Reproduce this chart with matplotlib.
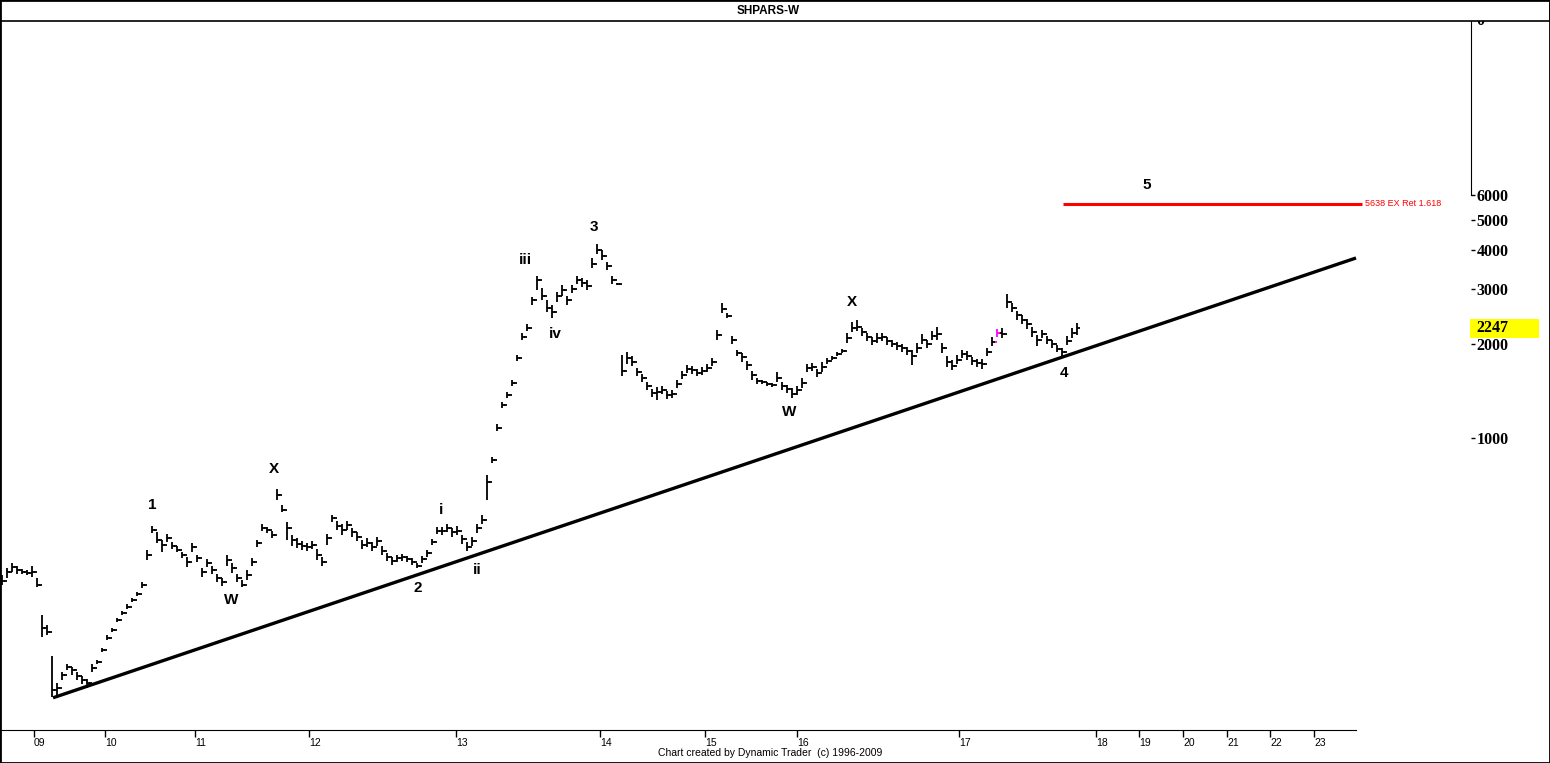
import matplotlib
matplotlib.use("Agg")
import matplotlib.pyplot as plt
from matplotlib.patches import Rectangle
from matplotlib.ticker import NullLocator
from matplotlib.transforms import ScaledTranslation
import numpy as np

plt.rcParams['font.family'] = ['Liberation Sans', 'DejaVu Sans']

TITLE = "SHPARS-W"
FOOTER = "Chart created by Dynamic Trader  (c) 1996-2009"

# weekly bars (one value per bar)
closes = [348, 373, 386, 378, 373, 370, 373, 338, 246, 239,
          156, 158, 174, 184, 180, 173, 168, 164, 183, 191,
          209, 228, 242, 261, 275, 288, 303, 317, 338, 422,
          507, 471, 455, 478, 451, 438, 422, 400, 448, 412,
          373, 398, 378, 356, 346, 406, 384, 356, 338, 364,
          400, 461, 515, 507, 489, 657, 588, 515, 471, 458,
          451, 448, 455, 422, 400, 478, 554, 523, 507, 527,
          500, 482, 455, 461, 448, 468, 435, 416, 403, 412,
          416, 409, 400, 389, 409, 428, 464, 503, 503, 515,
          500, 503, 475, 448, 468, 515, 546, 723, 850, 1077,
          1277, 1375, 1501, 1805, 2108, 2253, 2769, 3209, 2854, 2611,
          2535, 2854, 2981, 2769, 3004, 3209, 3141, 3072, 3614, 4005,
          3834, 3561, 3209, 3118, 1640, 1805, 1753, 1628, 1558, 1469,
          1395, 1405, 1425, 1375, 1385, 1490, 1593, 1665, 1652, 1617,
          1640, 1677, 1753, 2140, 2592, 2462, 2061, 1873, 1819, 1715,
          1593, 1523, 1512, 1490, 1480, 1558, 1469, 1436, 1385, 1425,
          1501, 1677, 1690, 1617, 1690, 1765, 1805, 1860, 1900, 2093,
          2253, 2270, 2187, 2108, 2046, 2093, 2108, 2046, 2002, 1973,
          1943, 1900, 1832, 1943, 2061, 2002, 2124, 2156, 1943, 1753,
          1702, 1778, 1860, 1832, 1765, 1740, 1728, 1887, 2032, 2172,
          2156, 2730, 2611, 2481, 2389, 2321, 2187, 2061, 2156, 2061,
          2002, 1929, 1887, 2046, 2172, 2247]

highs = [364, 384, 398, 389, 381, 378, 389, 356, 271, 251,
         200, 164, 178, 188, 184, 178, 173, 169, 188, 194,
         212, 233, 246, 265, 279, 294, 308, 321, 346, 438,
         523, 500, 471, 493, 464, 451, 432, 416, 461, 422,
         384, 409, 389, 367, 356, 422, 398, 367, 351, 378,
         412, 471, 530, 519, 503, 686, 610, 538, 489, 478,
         468, 461, 468, 441, 416, 493, 567, 542, 530, 542,
         515, 500, 471, 478, 464, 482, 451, 428, 416, 422,
         425, 419, 412, 398, 419, 438, 475, 519, 519, 530,
         515, 523, 489, 464, 482, 530, 567, 762, 870, 1110,
         1305, 1405, 1534, 1846, 2172, 2321, 2833, 3307, 3027, 2769,
         2671, 2939, 3095, 2854, 3095, 3307, 3258, 3209, 3777, 4189,
         4005, 3667, 3307, 3141, 1846, 1887, 1832, 1677, 1605, 1512,
         1436, 1458, 1469, 1415, 1425, 1534, 1640, 1715, 1702, 1665,
         1690, 1728, 1805, 2219, 2710, 2517, 2124, 1914, 1873, 1765,
         1640, 1558, 1534, 1512, 1501, 1628, 1512, 1480, 1447, 1469,
         1558, 1728, 1740, 1665, 1753, 1805, 1832, 1887, 1929, 2172,
         2355, 2389, 2253, 2172, 2108, 2172, 2172, 2108, 2061, 2032,
         2002, 1958, 1914, 2017, 2156, 2061, 2203, 2270, 2017, 1832,
         1778, 1846, 1914, 1900, 1819, 1792, 1792, 1943, 2108, 2236,
         2253, 2896, 2710, 2554, 2481, 2407, 2270, 2140, 2219, 2124,
         2061, 1988, 1943, 2124, 2253, 2338]

lows = [338, 356, 373, 367, 367, 364, 359, 333, 230, 233,
        148, 150, 168, 180, 174, 168, 163, 158, 178, 188,
        206, 225, 239, 257, 271, 283, 299, 312, 331, 406,
        496, 461, 432, 464, 441, 432, 412, 386, 432, 400,
        359, 386, 367, 346, 336, 389, 370, 346, 333, 351,
        389, 448, 503, 496, 478, 633, 580, 471, 451, 445,
        438, 435, 441, 406, 389, 455, 538, 507, 489, 507,
        482, 468, 441, 448, 435, 451, 422, 403, 392, 400,
        403, 400, 392, 384, 398, 416, 455, 493, 489, 500,
        482, 489, 458, 435, 451, 496, 530, 633, 832, 1053,
        1248, 1344, 1469, 1765, 2061, 2203, 2671, 2981, 2769, 2535,
        2426, 2730, 2854, 2671, 2917, 3118, 3049, 2981, 3508, 3891,
        3720, 3455, 3118, 3095, 1581, 1728, 1702, 1581, 1512, 1425,
        1354, 1324, 1385, 1334, 1344, 1447, 1546, 1617, 1605, 1581,
        1593, 1628, 1702, 2061, 2517, 2426, 2002, 1832, 1753, 1652,
        1534, 1490, 1490, 1469, 1458, 1512, 1425, 1395, 1344, 1375,
        1447, 1628, 1640, 1569, 1628, 1728, 1778, 1832, 1873, 2017,
        2187, 2203, 2124, 2046, 1988, 2017, 2046, 1988, 1958, 1914,
        1887, 1846, 1715, 1873, 2002, 1943, 2061, 2061, 1873, 1690,
        1652, 1728, 1805, 1778, 1715, 1690, 1665, 1832, 1973, 2108,
        2093, 2611, 2535, 2389, 2321, 2236, 2108, 1973, 2093, 2002,
        1943, 1887, 1819, 1988, 2093, 2140]

MARKED_BAR = 199  # the one magenta bar

year_ticks = [6.4, 20.6, 38.6, 61.4, 90.8, 119.6, 140.6, 159, 191.4,
              218.8, 227.4, 236.2, 245, 253.6, 262.4]
year_labels = ["09", "10", "11", "12", "13", "14", "15", "16", "17",
               "18", "19", "20", "21", "22", "23"]

price_ticks = [1000, 2000, 3000, 4000, 5000, 6000]

trend_x = [10.2, 270.8]
trend_y = [147, 3775]

target_price = 5638
target_x = [212.2, 272]
target_text = "5638 EX Ret 1.618"

wave_labels = ["1", "W", "X", "2", "i", "ii", "iii", "iv", "3", "W", "X", "4", "5"]
wave_x = [30, 45.8, 54.4, 83.2, 87.8, 95, 104.6, 110.6, 118.4, 157.4, 170, 212.4, 229]
wave_y = [610, 303, 796, 331, 588, 378, 3720, 2156, 4748, 1212, 2730, 1617, 6470]

last_price = 2247

W, H = 1550, 763
TICK_W = 0.6   # half width of open/close ticks, in bars
BAR_LW = 1.3


def draw_bars(ax):
    x = np.arange(len(closes))
    opens = [closes[0]] + closes[:-1]
    colors = ['black'] * len(closes)
    colors[MARKED_BAR] = '#ff00ff'
    ax.vlines(x, lows, highs, colors=colors, lw=BAR_LW)
    ax.hlines(opens, x - TICK_W, x, colors=colors, lw=BAR_LW)
    ax.hlines(closes, x, x + TICK_W, colors=colors, lw=BAR_LW)


def main():
    fig = plt.figure(figsize=(W / 100, H / 100), dpi=100)
    ax = fig.add_axes([0, 33 / H, 1471 / W, 709 / H])

    draw_bars(ax)
    ax.plot(trend_x, trend_y, color='black', lw=2.4, solid_capstyle='butt')
    ax.hlines(target_price, target_x[0], target_x[1], color='#ff0000', lw=2.2)
    ax.text(target_x[1] + 0.6, target_price, target_text, color='#ff0000',
            fontsize=6.5, ha='left', va='center')

    for lbl, wx, wy in zip(wave_labels, wave_x, wave_y):
        ax.text(wx, wy, lbl, ha='center', va='center', fontsize=11,
                fontweight='bold', color='black')

    ax.set_yscale('log')
    ax.set_xlim(-0.4, 293.8)
    ax.set_ylim(115.9, 21700)

    ax.yaxis.tick_right()
    ax.set_yticks(price_ticks, [str(p) for p in price_ticks])
    ax.yaxis.set_minor_locator(NullLocator())
    ax.tick_params(axis='y', length=3, width=1, pad=1)
    for t in ax.get_yticklabels():
        t.set_fontfamily('Liberation Serif')
        t.set_fontweight('bold')
        t.set_fontsize(11.5)

    ax.set_xticks(year_ticks, year_labels)
    ax.tick_params(axis='x', length=5, width=1, pad=1, labelsize=7.5)
    for t in ax.get_xticklabels():
        t.set_ha('left')

    ax.spines['top'].set_visible(False)
    ax.spines['left'].set_visible(False)
    ax.spines['right'].set_bounds(6000, 21700)
    ax.spines['bottom'].set_bounds(-0.4, trend_x[1])

    # top "0" label, half hidden under the title bar
    ax.annotate('0', xy=(1, 1), xycoords='axes fraction', xytext=(5, 0),
                textcoords='offset pixels', ha='left', va='center',
                fontsize=11.5, fontweight='bold', family='Liberation Serif',
                annotation_clip=False)

    # last price box
    anchor = ScaledTranslation(1.0, last_price, ax.get_yaxis_transform())
    box = Rectangle((-0.01, -0.095), 0.69, 0.19,
                    transform=fig.dpi_scale_trans + anchor,
                    fc='#ffff00', ec='none', clip_on=False)
    ax.add_patch(box)
    ax.annotate(str(last_price), xy=(1, last_price),
                xycoords=ax.get_yaxis_transform(), xytext=(5, 0),
                textcoords='offset pixels', ha='left', va='center',
                fontsize=11.5, fontweight='bold', family='Liberation Serif',
                annotation_clip=False)

    fig.add_artist(Rectangle((0, 1 - 21 / H), 1, 21 / H, transform=fig.transFigure,
                             fc='white', ec='black', lw=1.2, zorder=5))
    fig.text(768 / W, 1 - 11 / H, TITLE, ha='center', va='center',
             fontsize=8.5, fontweight='bold', zorder=6)
    fig.text(658 / W, 1 - 753 / H, FOOTER, ha='left', va='center', fontsize=7.5)
    fig.add_artist(Rectangle((0, 0), 1, 1, transform=fig.transFigure,
                             fill=False, ec='black', lw=2, zorder=7))

    fig.savefig('out.png', dpi=100)


if __name__ == "__main__":
    main()
